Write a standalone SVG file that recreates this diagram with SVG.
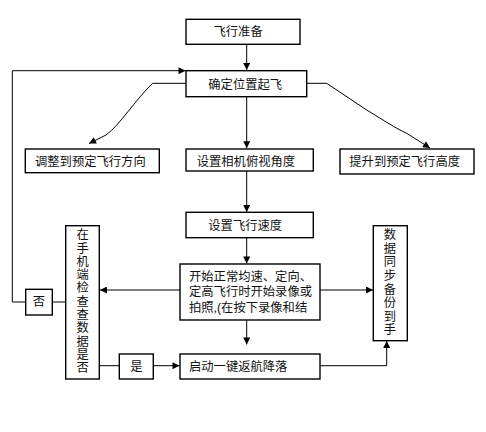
<svg xmlns="http://www.w3.org/2000/svg" width="486" height="432" viewBox="0 0 486 432">
<defs>
<marker id="arr" viewBox="0 0 10 10" refX="10" refY="5" markerWidth="8" markerHeight="7" markerUnits="userSpaceOnUse" orient="auto">
<path d="M0,0 L10,5 L0,10 Z" fill="#000"/>
</marker>
<style>
.box{fill:#fff;stroke:#000;stroke-width:1.4}
.ln{fill:none;stroke:#000;stroke-width:1}
.t{font-family:"Liberation Sans","Noto Sans CJK SC",sans-serif;font-size:12.3px;fill:#111}
.c{text-anchor:middle}
</style>
</defs>
<rect width="486" height="432" fill="#fff"/>
<g id="connectors">
<path class="ln" d="M246.7,44.3 V70" marker-end="url(#arr)"/>
<path class="ln" d="M12.3,302 V70.7 H185.5" marker-end="url(#arr)"/>
<path class="ln" d="M186,83.3 H152.7 C135,100 120,125 106,135 L89,143.5" marker-end="url(#arr)"/>
<path class="ln" d="M306.7,83.3 H326.7 L366.7,110 C385,121 395,128 406.7,133.3 L430,148" marker-end="url(#arr)"/>
<path class="ln" d="M246.7,96.7 V148.3" marker-end="url(#arr)"/>
<path class="ln" d="M246.7,171 V212" marker-end="url(#arr)"/>
<path class="ln" d="M246.7,237.7 V263.5" marker-end="url(#arr)"/>
<path class="ln" d="M180,290 H100" marker-end="url(#arr)"/>
<path class="ln" d="M320,290 H373" marker-end="url(#arr)"/>
<path class="ln" d="M246.7,320 V344.5" marker-end="url(#arr)"/>
<path class="ln" d="M99.3,365.7 H119.3"/>
<path class="ln" d="M153.3,365.7 H179.5" marker-end="url(#arr)"/>
<path class="ln" d="M320,365.7 H386.7 V341" marker-end="url(#arr)"/>
<path class="ln" d="M65.7,302 H52.3"/>
<path class="ln" d="M25.7,302 H12.3"/>
</g>
<g id="n1"><rect class="box" x="186" y="19.3" width="114" height="25"/><text class="t" x="213.5" y="36">飞行准备</text></g>
<g id="n2"><rect class="box" x="186" y="70.7" width="120.7" height="26"/><text class="t" x="208.3" y="88.5">确定位置起飞</text></g>
<g id="n3"><rect class="box" x="25.3" y="149" width="134" height="23.7"/><text class="t" x="35" y="165.8">调整到预定飞行方向</text></g>
<g id="n4"><rect class="box" x="186" y="149" width="127.3" height="22"/><text class="t" x="196.7" y="165.8">设置相机俯视角度</text></g>
<g id="n5"><rect class="box" x="340" y="149" width="134" height="25"/><text class="t" x="349.3" y="165.8">提升到预定飞行高度</text></g>
<g id="n6"><rect class="box" x="186" y="212.3" width="127.3" height="25.4"/><text class="t" x="208.3" y="229.8">设置飞行速度</text></g>
<g id="n7"><rect class="box" x="180" y="264" width="140" height="56"/>
<text class="t" x="189" y="280.8">开始正常均速、定向、</text>
<text class="t" x="189" y="296">定高飞行时开始录像或</text>
<text class="t" x="189" y="311.5">拍照,(在按下录像和结</text></g>
<g id="n8"><rect class="box" x="65.7" y="225.7" width="33.6" height="153.3"/>
<text class="t c" x="82.7"><tspan x="82.7" y="239.2">在</tspan><tspan x="82.7" y="252.5">手</tspan><tspan x="82.7" y="265.8">机</tspan><tspan x="82.7" y="279.1">端</tspan><tspan x="82.7" y="292.4">检</tspan><tspan x="82.7" y="305.7">查</tspan><tspan x="82.7" y="319">查</tspan><tspan x="82.7" y="332.3">数</tspan><tspan x="82.7" y="345.6">据</tspan><tspan x="82.7" y="358.9">是</tspan><tspan x="82.7" y="372.2">否</tspan></text></g>
<g id="n9"><rect class="box" x="373.3" y="225.7" width="34" height="115"/>
<text class="t c" x="390"><tspan x="390" y="239.2">数</tspan><tspan x="390" y="252.8">据</tspan><tspan x="390" y="266.4">同</tspan><tspan x="390" y="280">步</tspan><tspan x="390" y="293.6">备</tspan><tspan x="390" y="307.2">份</tspan><tspan x="390" y="320.8">到</tspan><tspan x="390" y="334.4">手</tspan></text></g>
<g id="n10"><rect class="box" x="180" y="354" width="140" height="25"/><text class="t" x="189" y="370.9">启动一键返航降落</text></g>
<g id="n11"><rect class="box" x="119.3" y="354" width="34" height="25"/><text class="t c" x="136.3" y="370.5">是</text></g>
<g id="n12"><rect class="box" x="25.7" y="289.3" width="26.6" height="25.7"/><text class="t c" x="39" y="306.3">否</text></g>
</svg>
